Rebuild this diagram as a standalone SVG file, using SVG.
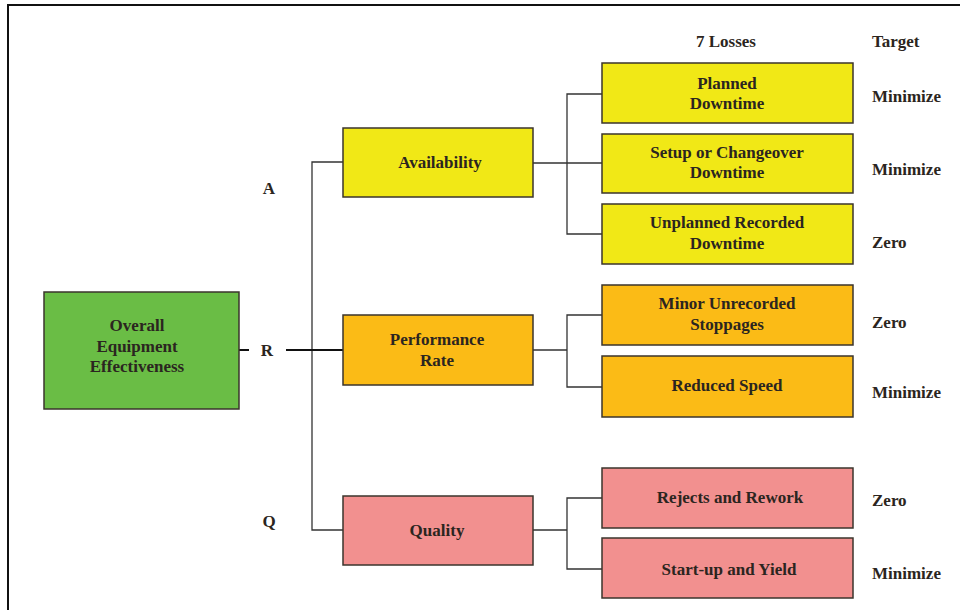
<svg xmlns="http://www.w3.org/2000/svg" width="960" height="610" viewBox="0 0 960 610">
<style>
text{font-family:"Liberation Serif","Times New Roman",serif;font-weight:bold;font-size:17px;fill:#2b2520;}
.c{text-anchor:middle;}
.box{stroke:#3b352c;stroke-width:1.5;}
.g{fill:#6abd45;} .y{fill:#f1e816;} .o{fill:#fbbb16;} .p{fill:#f2908f;}
.ln{fill:none;stroke:#333;stroke-width:1.3;}
.tk{fill:none;stroke:#111;stroke-width:2;}
</style>
<rect x="0" y="0" width="960" height="610" fill="#fff"/>
<rect x="8" y="5" width="960" height="620" fill="none" stroke="#111" stroke-width="2"/>
<g id="connectors">
<path class="ln" d="M343,162 H312 V530 H343"/>
<path class="tk" d="M239,350 H249 M286,350 H343"/>
<path class="ln" d="M533,163 H567 M602,94 H567 V234 H602 M567,163 H602"/>
<path class="ln" d="M533,350 H567 M602,315 H567 V387 H602"/>
<path class="ln" d="M533,530 H567 M602,498 H567 V569 H602"/>
</g>
<g id="oee"><rect class="box g" x="44" y="292" width="195" height="117"/>
<text class="c" x="137" y="331">Overall</text><text class="c" x="137" y="352">Equipment</text><text class="c" x="137" y="372">Effectiveness</text></g>
<g id="lbl-a"><text class="c" x="269" y="194">A</text></g>
<g id="lbl-r"><text class="c" x="267" y="356">R</text></g>
<g id="lbl-q"><text class="c" x="269" y="527">Q</text></g>
<g id="availability"><rect class="box y" x="343" y="128" width="190" height="69"/><text class="c" x="440" y="168">Availability</text></g>
<g id="performance"><rect class="box o" x="343" y="315" width="190" height="70"/><text class="c" x="437" y="345">Performance</text><text class="c" x="437" y="366">Rate</text></g>
<g id="quality"><rect class="box p" x="343" y="496" width="190" height="69"/><text class="c" x="437" y="536">Quality</text></g>
<g id="hdr-losses"><text class="c" x="726" y="47">7 Losses</text></g>
<g id="hdr-target"><text x="872" y="47">Target</text></g>
<g id="planned"><rect class="box y" x="602" y="63" width="251" height="60"/><text class="c" x="727" y="89">Planned</text><text class="c" x="727" y="109">Downtime</text><text x="872" y="102">Minimize</text></g>
<g id="setup"><rect class="box y" x="602" y="134" width="251" height="59"/><text class="c" x="727" y="158">Setup or Changeover</text><text class="c" x="727" y="178">Downtime</text><text x="872" y="175">Minimize</text></g>
<g id="unplanned"><rect class="box y" x="602" y="204" width="251" height="60"/><text class="c" x="727" y="228">Unplanned Recorded</text><text class="c" x="727" y="249">Downtime</text><text x="872" y="248">Zero</text></g>
<g id="minor"><rect class="box o" x="602" y="285" width="251" height="60"/><text class="c" x="727" y="309">Minor Unrecorded</text><text class="c" x="727" y="330">Stoppages</text><text x="872" y="328">Zero</text></g>
<g id="speed"><rect class="box o" x="602" y="356" width="251" height="61"/><text class="c" x="727" y="391">Reduced Speed</text><text x="872" y="398">Minimize</text></g>
<g id="rejects"><rect class="box p" x="602" y="468" width="251" height="60"/><text class="c" x="730" y="503">Rejects and Rework</text><text x="872" y="506">Zero</text></g>
<g id="startup"><rect class="box p" x="602" y="538" width="251" height="60"/><text class="c" x="729" y="575">Start-up and Yield</text><text x="872" y="579">Minimize</text></g>
</svg>
